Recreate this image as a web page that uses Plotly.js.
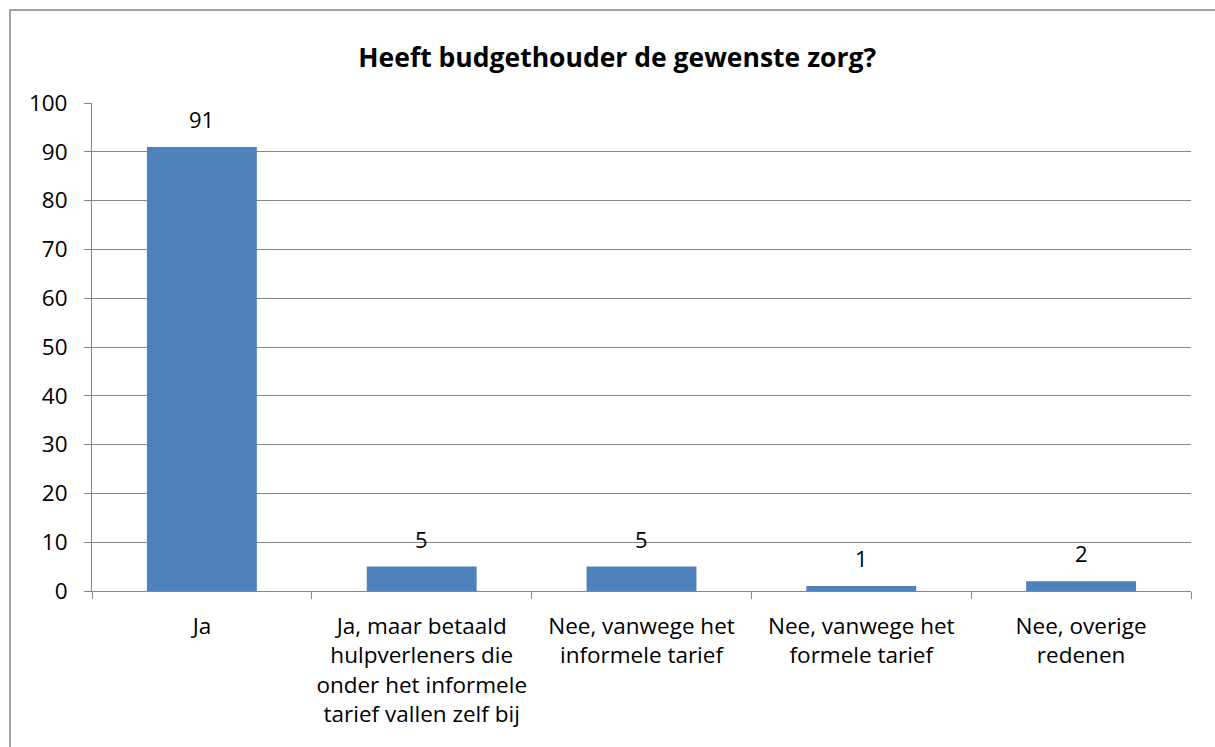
<!DOCTYPE html>
<html>
<head>
<meta charset="utf-8">
<script src="https://cdn.plot.ly/plotly-3.0.1.min.js"></script>
<style>html,body{margin:0;padding:0;background:#fff;}#chart{width:1215px;height:747px;}</style>
</head>
<body>
<div id="chart"></div>
<script>
const categories = [
  "Ja",
  "Ja, maar betaald<br>hulpverleners die<br>onder het informele<br>tarief vallen zelf bij",
  "Nee, vanwege het<br>informele tarief",
  "Nee, vanwege het<br>formele tarief",
  "Nee, overige<br>redenen"
];
const values = [91, 5, 5, 1, 2];
const yTicks = [0, 10, 20, 30, 40, 50, 60, 70, 80, 90, 100];
const chartTitle = "Heeft budgethouder de gewenste zorg?";

const fontFam = "Open Sans, Liberation Sans, Arial, sans-serif";

const trace = {
  type: "bar",
  x: categories,
  y: values,
  marker: {color: "#4F81BD", line: {width: 0}},
  width: 0.5,
  hoverinfo: "skip"
};

const annotations = categories.map((c, i) => ({
  x: c, y: values[i], xref: "x", yref: "y",
  text: String(values[i]), showarrow: false,
  yanchor: "bottom", yshift: 11,
  font: {family: fontFam, size: 22, color: "#000"}
}));

const layout = {
  width: 1215, height: 747,
  margin: {l: 92, r: 24, t: 103, b: 156},
  paper_bgcolor: "#fff", plot_bgcolor: "#fff",
  showlegend: false,
  title: {
    text: "<b>" + chartTitle + "</b>",
    x: 0.508, xref: "container", xanchor: "center",
    y: 0.923, yref: "container", yanchor: "middle",
    font: {family: fontFam, size: 26.5, color: "#000"}
  },
  xaxis: {
    type: "category",
    showgrid: false,
    showline: true, linecolor: "#868686", linewidth: 1,
    ticks: "outside", tickson: "boundaries", ticklen: 7, tickcolor: "#868686",
    tickfont: {family: fontFam, size: 22.5, color: "#000"},
    tickangle: 0,
    ticklabelstandoff: 15,
    fixedrange: true
  },
  yaxis: {
    range: [0, 100],
    tickvals: yTicks,
    ticktext: yTicks.map(String),
    showgrid: true, gridcolor: "#868686", gridwidth: 1,
    showline: true, linecolor: "#868686", linewidth: 1,
    ticks: "outside", ticklen: 7, tickcolor: "#868686",
    tickfont: {family: fontFam, size: 22.5, color: "#000"},
    ticklabelstandoff: 12,
    zeroline: false,
    fixedrange: true
  },
  annotations: annotations,
  shapes: [{
    type: "rect", xref: "paper", yref: "paper",
    x0: -0.0746, x1: 1.2, y0: -0.5, y1: 1.1906,
    line: {color: "#868686", width: 1.5},
    fillcolor: "rgba(0,0,0,0)", layer: "below"
  }]
};

Plotly.newPlot("chart", [trace], layout, {displayModeBar: false, staticPlot: true});
</script>
</body>
</html>
